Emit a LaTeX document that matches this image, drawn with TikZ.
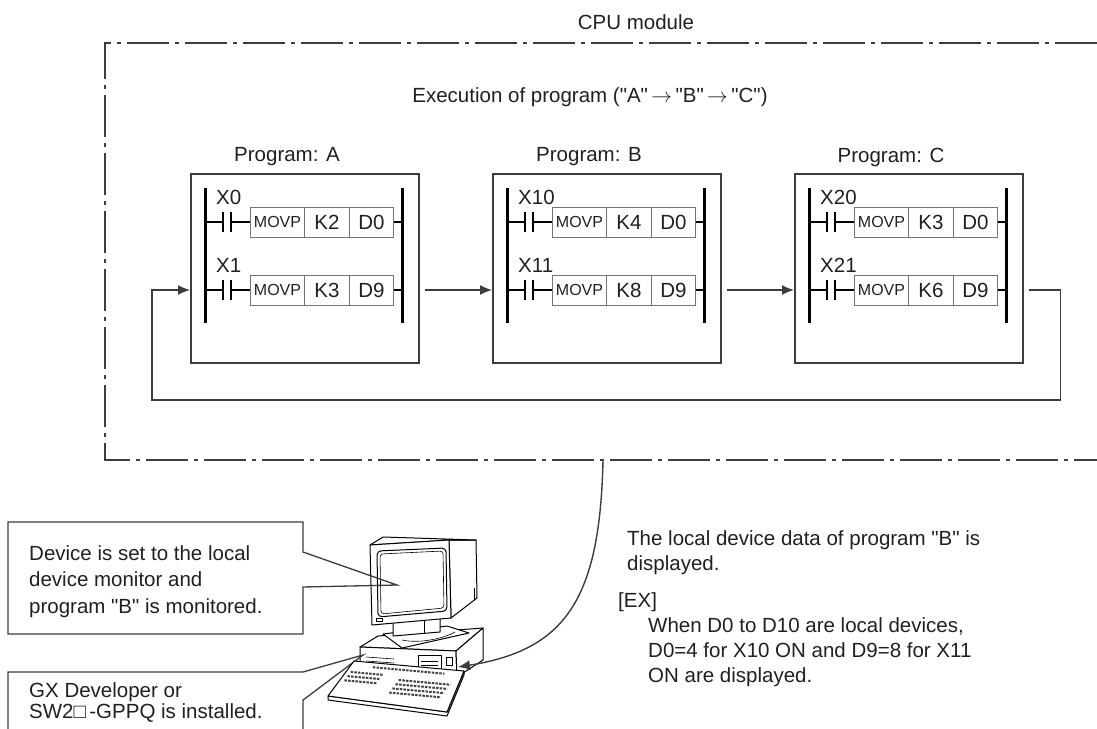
\documentclass[tikz,border=0pt]{standalone}
\usepackage{fontspec}
\setmainfont{Liberation Sans}[Ligatures=TeXOff]
\usetikzlibrary{arrows.meta,calc}

\definecolor{linegray}{HTML}{3C3C3C}
\definecolor{textgray}{HTML}{231F20}

\begin{document}
\begin{tikzpicture}[x=1pt, y=-1pt,
  every node/.style={font=\fontsize{20.5}{25}\selectfont, text=textgray, inner sep=0pt},
  progbox/.style={draw=linegray, line width=1.6pt, minimum width=228pt, minimum height=189pt, anchor=north west},
  rail/.style={line width=3pt, black},
  wire/.style={line width=1.6pt, black},
  cell/.style={draw=black!55, line width=1pt, minimum height=30pt, anchor=west},
  flow/.style={draw=linegray, line width=1.4pt, ->, >={Latex[length=12pt,width=10pt]}},
  frame/.style={draw=linegray, line width=1.3pt, dash pattern=on 42pt off 6pt on 4pt off 6pt},
  callout/.style={draw=linegray, line width=1.3pt},
  pcline/.style={draw=black, line width=1pt, fill=white, line join=round},
  keyrow/.style={line width=2pt, black!75, dash pattern=on 2.5pt off 1.2pt}]

\useasboundingbox (0,0) rectangle (1097,728);

% CPU module
\draw[frame] (1097,43) -- (105,43) -- (105,460) -- (1097,460);
\node (cpu) at (636,22) {CPU module};
\node (exec) at (590,97) {Execution of program ("A"\,$\rightarrow$\,"B"\,$\rightarrow$\,"C")};

\foreach \n/\x/\lbl/\xa/\xb/\ka/\kb in {prga/190/A/X0/X1/K2/K3, prgb/492/B/X10/X11/K4/K8, prgc/794/C/X20/X21/K3/K6} {
  \node[progbox] (\n) at (\x,173) {};
  \node (\n-title) at (\x+97,157) {Program: \lbl};
  \draw[rail] (\x+15,188) -- (\x+15,323);
  \draw[rail] (\x+212,188) -- (\x+212,323);
  \foreach \y/\dev/\k/\d in {222/\xa/\ka/D0, 290/\xb/\kb/D9} {
    \node[anchor=west] (\n-x\y) at (\x+26,\y-25) {\dev};
    \draw[wire] (\x+15,\y) -- (\x+33,\y);
    \draw[wire] (\x+33,\y-10) -- (\x+33,\y+10);
    \draw[wire] (\x+41,\y-10) -- (\x+41,\y+10);
    \draw[wire] (\x+41,\y) -- (\x+60,\y);
    \node[cell, minimum width=54pt, font=\fontsize{16}{16}\selectfont] (\n-op\y) at (\x+60,\y) {MOVP};
    \node[cell, minimum width=45pt] (\n-k\y) at (\x+114,\y) {\k};
    \node[cell, minimum width=44pt] (\n-d\y) at (\x+159,\y) {\d};
    \draw[wire] (\n-d\y.east) -- (\x+212,\y);
  }
  \coordinate (\n-in) at ($(\n.north west)+(0,117)$);
  \coordinate (\n-out) at ($(\n.north east)+(5,117)$);
}

\draw[flow] (prga-out) -- (prgb-in);
\draw[flow] (prgb-out) -- (prgc-in);
\draw[flow] (prgc-out) -- ++(32,0) -- ++(0,110) -| ($(prga-in)+(-38,0)$) -- (prga-in);

% personal computer
\coordinate (screen) at (397,585);
\coordinate (case) at (363,655);
\coordinate (pc-side) at (458,667);

\draw[pcline] (360,647) -- (378,636) -- (483,628) -- (456,651) -- cycle;
\draw[pcline] (360,647) -- (456,651) -- (457,677) -- (360,672) -- cycle;
\draw[pcline] (456,651) -- (483,628) -- (483,660) -- (457,677) -- cycle;
\draw[line width=0.8pt] (418,655) rectangle (441,670);
\draw[line width=0.6pt] (421,661) -- (438,661) (421,665) -- (438,665);
\draw[line width=0.8pt] (446,657) rectangle (452,665);
\foreach \v in {657,661,665} \draw[line width=0.6pt] (366,\v) -- (394,\v+2);

\draw[pcline] (383,634) -- (447,626) -- (469,633) -- (402,648) -- cycle;
\draw[line width=0.6pt] (402,640) .. controls (420,644) and (445,638) .. (455,632);
\draw[pcline] (393,622) -- (393,636) -- (440,632) -- (440,619);
\draw[line width=0.6pt] (424,621) -- (424,633);

\draw[pcline] (449,540) -- (476,540) -- (477,598) -- (451,618) -- cycle;
\draw[pcline] (370,545) -- (383,537) -- (476,540) -- (449,540) -- cycle;
\draw[pcline] (370,545) -- (449,540) -- (451,618) -- (372,625) -- cycle;
\draw[line width=1pt, rounded corners=4pt] (377,551) -- (446,548) -- (447,611) -- (378,617) -- cycle;
\draw[line width=0.6pt, rounded corners=3pt] (380,554) -- (443,551) -- (444,608) -- (381,614) -- cycle;
\draw[line width=0.6pt] (376,618) rectangle (382,621);
\draw[line width=0.6pt] (474,588) -- (474,600);

% notes
\node[anchor=north west, align=left, font=\fontsize{20.5}{26.5}\selectfont] (note1) at (29,545)
  {Device is set to the local\\device monitor and\\program "B" is monitored.};
\draw[callout] (8,522) -- (303,522) -- (303,552) -- (screen) -- (303,587) -- (303,634) -- (8,634) -- cycle;

\node[anchor=north west, align=left, font=\fontsize{20.5}{21.5}\selectfont] (note2) at (29,682)
  {GX Developer or\\SW2□\,-GPPQ is installed.};
\draw[callout] (303,740) -- (303,700) -- (case) -- (303,672) -- (8,672) -- (8,740);

% keyboard
\draw[pcline] (328,696) -- (328,700) -- (447,716) -- (464,675) -- (464,671) -- (447,712) -- cycle;
\draw[pcline] (354,661) -- (464,671) -- (447,712) -- (328,696) -- cycle;
\draw[keyrow] ($(354,661)+0.12*(-26,35)+0.2*(110,10)$) -- ++(0.65*110,0.65*10);
\foreach \v in {0.3,0.42,0.54} \draw[keyrow] ($(354,661)+\v*(-26,35)+0.04*(110,10)$) -- ++(0.3*110,0.3*10);
\foreach \v in {0.4,0.52,0.64,0.76} \draw[keyrow] ($(354,661)+\v*(-26,35)+0.5*(110,10)$) -- ++(0.47*110,0.47*10);

\node[anchor=north west, align=left] (shown) at (627,530)
  {The local device data of program "B" is\\displayed.};
\node[anchor=north west] (ex) at (618,592) {[EX]};
\node[anchor=north west, align=left] (exnote) at (648,617)
  {When D0 to D10 are local devices,\\D0=4 for X10 ON and D9=8 for X11\\ON are displayed.};

\coordinate (cpu-port) at (603,460);
\draw[flow] (cpu-port) .. controls (600,600) and (565,650) .. (pc-side);

\end{tikzpicture}
\end{document}
